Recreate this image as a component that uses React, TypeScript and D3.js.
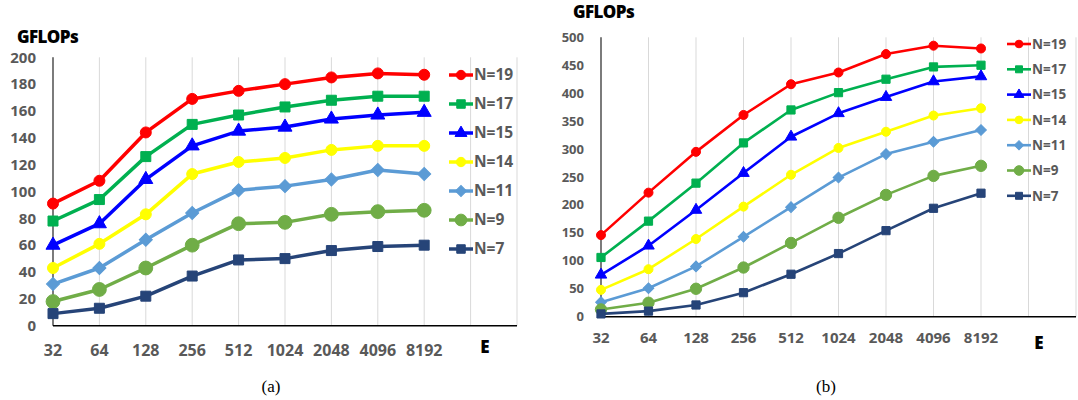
import React from 'react';
import * as d3 from 'd3';

// x categories (E) and two empty slots that Excel leaves on the right
const categories = ['32', '64', '128', '256', '512', '1024', '2048', '4096', '8192'];
const emptySlots = ['_a', '_b'];

const seriesNames = ['N=19', 'N=17', 'N=15', 'N=14', 'N=11', 'N=9', 'N=7'];
const seriesColors = ['#ff0000', '#00b050', '#0000ff', '#ffff00', '#5b9bd5', '#70ad47', '#264478'];
const seriesMarkers = ['circle', 'square', 'triangle', 'circle', 'diamond', 'bigcircle', 'square'];

// panel (a)
const a19 = [91, 108, 144, 169, 175, 180, 185, 188, 187];
const a17 = [78, 94, 126, 150, 157, 163, 168, 171, 171];
const a15 = [60, 76, 109, 134, 145, 148, 154, 157, 159];
const a14 = [43, 61, 83, 113, 122, 125, 131, 134, 134];
const a11 = [31, 43, 64, 84, 101, 104, 109, 116, 113];
const a9 = [18, 27, 43, 60, 76, 77, 83, 85, 86];
const a7 = [9, 13, 22, 37, 49, 50, 56, 59, 60];
const ticksA = [0, 20, 40, 60, 80, 100, 120, 140, 160, 180, 200];

// panel (b)
const b19 = [146, 222, 295, 361, 416, 437, 470, 485, 480];
const b17 = [106, 171, 239, 311, 370, 401, 425, 447, 450];
const b15 = [75, 127, 191, 257, 322, 364, 393, 421, 430];
const b14 = [48, 85, 139, 197, 254, 302, 331, 360, 373];
const b11 = [26, 51, 90, 143, 196, 249, 291, 313, 334];
const b9 = [13, 25, 50, 88, 132, 177, 218, 252, 270];
const b7 = [5, 10, 21, 43, 76, 113, 154, 194, 221];
const ticksB = [0, 50, 100, 150, 200, 250, 300, 350, 400, 450, 500];

const FONT = '"Open Sans", sans-serif';
const GREY = '#595959';

type Panel = {
  values: number[][];
  ticks: number[];
  x0: number; x1: number; y0: number; y1: number;
  yFont: number; xFont: number; xLabelY: number;
  titleX: number; titleY: number;
  eX: number; eY: number;
  legX: number; legY: number; legStep: number; legFont: number;
  lineW: number; mScale: number;
};

const markerPath = (kind: string, s: number) => {
  const type = kind === 'square' || kind === 'diamond' ? d3.symbolSquare
    : kind === 'triangle' ? d3.symbolTriangle : d3.symbolCircle;
  const size = kind === 'bigcircle' ? 150 : kind === 'circle' ? 95 : kind === 'triangle' ? 85 : kind === 'diamond' ? 85 : 100;
  return d3.symbol().type(type).size(size * s * s)() as string;
};

const Marker = ({ kind, color, x, y, s }: { kind: string; color: string; x: number; y: number; s: number }) => (
  <path
    d={markerPath(kind, s)}
    fill={color}
    stroke={color}
    transform={`translate(${x},${y})${kind === 'diamond' ? ' rotate(45)' : ''}`}
  />
);

const Chart = ({ p }: { p: Panel }) => {
  const x = d3.scalePoint<string>().domain([...categories, ...emptySlots]).range([p.x0, p.x1]);
  const y = d3.scaleLinear().domain([0, p.ticks[p.ticks.length - 1]]).range([p.y0, p.y1]);
  const line = d3.line<number>().x((_, i) => x(categories[i]) as number).y(d => y(d));
  const top = y(p.ticks[p.ticks.length - 1]);

  return (
    <g>
      {x.domain().map(c => (
        <line key={c} x1={x(c)} x2={x(c)} y1={top} y2={p.y0} stroke="#d9d9d9" strokeWidth={1} />
      ))}
      <line x1={p.x0} x2={p.x0} y1={top} y2={p.y0} stroke="#404040" strokeWidth={1.3} />
      <line x1={p.x0} x2={p.x1} y1={p.y0} y2={p.y0} stroke="#000" strokeWidth={1.5} />
      {p.ticks.map(t => (
        <text key={t} x={p.x0 - 17} y={y(t)} dy="0.35em" textAnchor="end"
          fontFamily={FONT} fontWeight={700} fontSize={p.yFont} fill={GREY}>{t}</text>
      ))}
      {categories.map(c => (
        <text key={c} x={x(c)} y={p.xLabelY} dy="0.35em" textAnchor="middle"
          fontFamily={FONT} fontWeight={700} fontSize={p.xFont} fill={GREY}>{c}</text>
      ))}
      <text x={p.titleX} y={p.titleY} dy="0.35em" fontFamily={FONT} fontWeight={800}
        fontSize={17} letterSpacing={-0.6} fill="#000">GFLOPs</text>
      <text x={p.eX} y={p.eY} dy="0.35em" textAnchor="middle" fontFamily={FONT} fontWeight={800}
        fontSize={17} fill="#000">E</text>
      {p.values.map((vals, si) => (
        <g key={seriesNames[si]}>
          <path d={line(vals) as string} fill="none" stroke={seriesColors[si]} strokeWidth={p.lineW} strokeLinejoin="round" />
          {vals.map((v, i) => (
            <Marker key={i} kind={seriesMarkers[si]} color={seriesColors[si]} x={x(categories[i]) as number} y={y(v)} s={p.mScale} />
          ))}
        </g>
      ))}
      {seriesNames.map((n, si) => {
        const ly = p.legY + si * p.legStep;
        return (
          <g key={n}>
            <line x1={p.legX} x2={p.legX + 24} y1={ly} y2={ly} stroke={seriesColors[si]} strokeWidth={p.lineW} />
            <Marker kind={seriesMarkers[si]} color={seriesColors[si]} x={p.legX + 12} y={ly} s={p.mScale * 0.85} />
            <text x={p.legX + 25} y={ly} dy="0.35em" fontFamily={FONT} fontWeight={700}
              fontSize={p.legFont} fill={GREY}>{n}</text>
          </g>
        );
      })}
    </g>
  );
};

const panelA: Panel = {
  values: [a19, a17, a15, a14, a11, a9, a7], ticks: ticksA,
  x0: 53, x1: 517, y0: 325.7, y1: 57.3,
  yFont: 15, xFont: 16, xLabelY: 350,
  titleX: 17, titleY: 37, eX: 485, eY: 347,
  legX: 449, legY: 75, legStep: 29, legFont: 15.5,
  lineW: 3.5, mScale: 1,
};

const panelB: Panel = {
  values: [b19, b17, b15, b14, b11, b9, b7], ticks: ticksB,
  x0: 601, x1: 1076, y0: 316.7, y1: 37.3,
  yFont: 13, xFont: 15, xLabelY: 338,
  titleX: 573, titleY: 12, eX: 1039, eY: 343,
  legX: 1007, legY: 44, legStep: 25.3, legFont: 13.5,
  lineW: 2.6, mScale: 0.82,
};

export default function App() {
  return (
    <svg width={1078} height={400} style={{ position: 'absolute', left: 0, top: 0, background: '#fff' }}>
      <Chart p={panelA} />
      <Chart p={panelB} />
      <text x={271} y={386} dy="0.35em" textAnchor="middle" fontFamily='"Liberation Serif", serif' fontSize={17}>(a)</text>
      <text x={826} y={386} dy="0.35em" textAnchor="middle" fontFamily='"Liberation Serif", serif' fontSize={17}>(b)</text>
    </svg>
  );
}
